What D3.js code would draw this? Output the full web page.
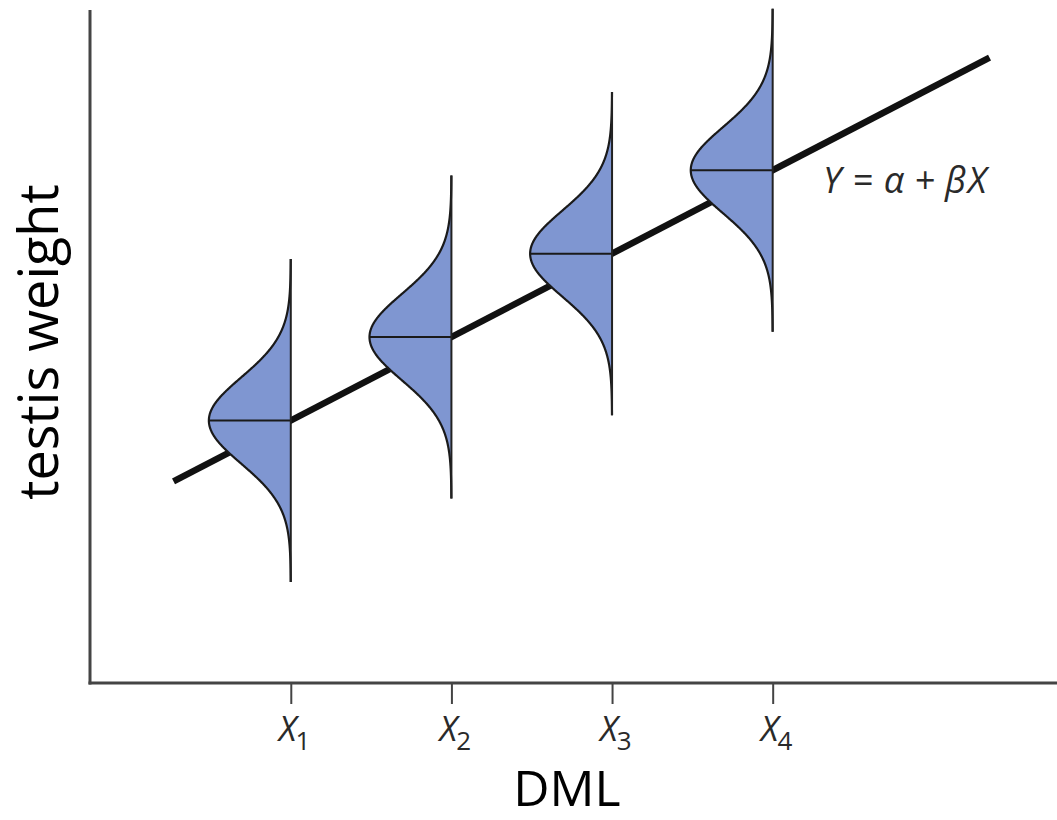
<!DOCTYPE html>
<html>
<head>
<meta charset="utf-8">
<script src="https://cdn.jsdelivr.net/npm/d3@7"></script>
<style>
  html, body { margin: 0; padding: 0; background: #fff; }
  svg { display: block; }
</style>
</head>
<body>
<script>
// Regression model Y = alpha + beta * X, with normal spread around the line
const alpha = 2.66;
const beta = 1.24;
const sigma = 0.64;          // spread of Y at each X (y units)
const densityTail = 3.75;    // how many sigmas each vertical guide extends
const densityWidth = 0.51;   // peak width of the half-density (x units)

// X positions where the distributions are drawn
const xPoints = [1, 2, 3, 4];
const xTickLabels = ["1", "2", "3", "4"];   // subscripts of X
// Extent of the regression line
const lineExtent = [0.27, 5.35];

const xAxisTitle = "DML";
const yAxisTitle = "testis weight";
const equationText = ["Y", "=", "α", "+", "β", "X"];

const W = 1057, H = 820;
const svg = d3.select("body").append("svg").attr("width", W).attr("height", H);

const x = d3.scaleLinear().domain([-0.25, 5.77]).range([90, 1057]);
const y = d3.scaleLinear().domain([0, 10]).range([683, 10]);

const axisColor = "#444";

// Regression line (drawn first so the densities sit over it)
const lineData = lineExtent.map(v => [v, alpha + beta * v]);
svg.append("path")
  .datum(lineData)
  .attr("d", d3.line().x(d => x(d[0])).y(d => y(d[1])))
  .attr("stroke", "#111")
  .attr("stroke-width", 6.5)
  .attr("fill", "none");

// Half-normal densities on the left side of each X
const fillColor = "#7f96d1";
xPoints.forEach(xi => {
  const mu = alpha + beta * xi;
  const ys = d3.range(-densityTail, densityTail + 0.001, 0.02).map(z => mu + z * sigma);
  const pts = ys.map(v => {
    const z = (v - mu) / sigma;
    return [xi - densityWidth * Math.exp(-0.5 * z * z), v];
  });
  const area = d3.area()
    .y(d => y(d[1]))
    .x0(d => x(d[0]))
    .x1(() => x(xi))
    .curve(d3.curveBasis);
  svg.append("path").datum(pts).attr("d", area).attr("fill", fillColor).attr("stroke", "none");
  svg.append("path").datum(pts)
    .attr("d", d3.line().x(d => x(d[0])).y(d => y(d[1])).curve(d3.curveBasis))
    .attr("fill", "none").attr("stroke", "#1a1a1a").attr("stroke-width", 2.2);
  // mean line
  svg.append("line")
    .attr("x1", x(xi - densityWidth)).attr("x2", x(xi))
    .attr("y1", y(mu)).attr("y2", y(mu))
    .attr("stroke", "#1a1a1a").attr("stroke-width", 2);
  // vertical guide
  svg.append("line")
    .attr("x1", x(xi)).attr("x2", x(xi))
    .attr("y1", y(mu + densityTail * sigma)).attr("y2", y(mu - densityTail * sigma))
    .attr("stroke", "#222").attr("stroke-width", 2);
});

// Axes
svg.append("line").attr("x1", 90).attr("x2", 90).attr("y1", 10).attr("y2", 684.5)
  .attr("stroke", axisColor).attr("stroke-width", 3);
svg.append("line").attr("x1", 88.5).attr("x2", W).attr("y1", 683).attr("y2", 683)
  .attr("stroke", axisColor).attr("stroke-width", 3);

const xAxis = d3.axisBottom(x).tickValues(xPoints).tickSize(20).tickFormat("");
const gx = svg.append("g").attr("transform", "translate(0,684)").call(xAxis);
gx.select(".domain").remove();
gx.selectAll(".tick line").attr("stroke", axisColor).attr("stroke-width", 2);

// Tick labels: italic X with subscript
xPoints.forEach((xi, i) => {
  const t = svg.append("text")
    .attr("x", x(xi) - 12).attr("y", 741)
    .attr("fill", "#2a2a2a")
    .attr("font-family", "'Open Sans', sans-serif")
    .attr("font-size", 34);
  t.append("tspan").attr("font-style", "italic").text("X");
  t.append("tspan").attr("font-size", 26).attr("dy", 9).attr("dx", -1).text(xTickLabels[i]);
});

// Equation label, with extra spacing around the operators
const eq = svg.append("text")
  .attr("x", 823).attr("y", 193)
  .attr("fill", "#2a2a2a")
  .attr("font-family", "'Open Sans', sans-serif")
  .attr("font-size", 36)
  .attr("font-style", "italic");
const eqGaps = [0, 11, 11, 10, 10, 2];
equationText.forEach((s, i) => eq.append("tspan").attr("dx", eqGaps[i]).text(s));

// Axis titles
svg.append("text")
  .attr("x", 567).attr("y", 806)
  .attr("text-anchor", "middle")
  .attr("font-family", "'Open Sans', sans-serif")
  .attr("font-size", 50)
  .attr("fill", "#000")
  .text(xAxisTitle);

svg.append("text")
  .attr("transform", "translate(58,342) rotate(-90)")
  .attr("text-anchor", "middle")
  .attr("font-family", "'Open Sans', sans-serif")
  .attr("font-size", 54)
  .attr("fill", "#000")
  .text(yAxisTitle);
</script>
</body>
</html>
